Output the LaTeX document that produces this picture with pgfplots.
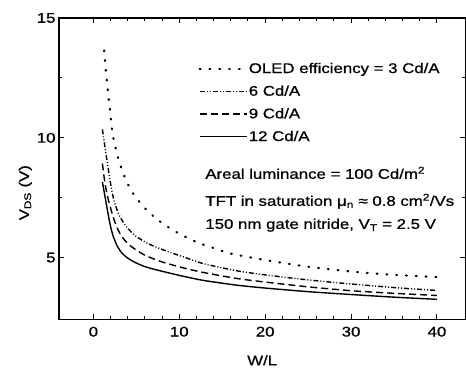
\documentclass[border=0pt]{standalone}
\usepackage{fontspec}
\setmainfont[FakeStretch=1.2, FakeBold=0.8]{Liberation Sans}
\usepackage{pgfplots}
\pgfplotsset{compat=1.18}
\pgfplotstableread{
x y
1.25 13.65
1.45 12.8
1.7 11.9
1.95 11.1
2.15 10.4
2.4 9.85
2.75 9.35
3.0 9.0
3.45 8.55
3.9 8.15
4.5 7.75
5.2 7.4
6.3 6.95
7.6 6.55
8.8 6.25
10 6.0
12 5.65
13.6 5.45
16 5.17
20 4.9
25 4.62
30 4.42
35 4.28
40 4.19
}\tabA
\pgfplotstableread{
x y
1.05 10.35
1.35 9.6
1.65 8.9
1.95 8.2
2.35 7.45
2.9 6.85
3.7 6.35
4.85 5.92
6.4 5.58
8.3 5.3
10.5 5.03
12.8 4.75
16.7 4.45
20 4.28
25 4.07
30 3.9
35 3.75
40 3.63
}\tabB
\pgfplotstableread{
x y
1.05 8.93
1.35 8.1
1.75 7.4
2.3 6.7
2.7 6.3
3.1 6.0
3.7 5.7
4.5 5.44
6.0 5.1
8.0 4.82
10.5 4.57
12.8 4.38
16.7 4.13
20 3.98
25 3.78
30 3.62
35 3.51
40 3.42
}\tabC
\pgfplotstableread{
x y
1.05 8.16
1.25 7.75
1.45 7.35
1.75 6.75
2.0 6.3
2.3 5.9
2.75 5.5
3.3 5.2
4.0 4.98
4.85 4.8
5.8 4.65
6.8 4.54
8.7 4.37
10.5 4.22
12.8 4.05
16.7 3.85
20 3.73
25 3.58
30 3.46
35 3.35
40 3.26
}\tabD
\begin{document}
\begin{tikzpicture}
\begin{axis}[
  scale only axis, width=406pt, height=301pt,
  xmin=-4, xmax=43.3, ymin=2.43, ymax=15,
  xtick={0,10,20,30,40}, ytick={5,10,15},
  minor x tick num=4, minor y tick num=1,
  axis line style={line width=1.4pt},
  every tick/.style={black, line width=1pt},
  major tick length=5pt, minor tick length=3pt,
  /pgf/number format/assume math mode=true,
  ticklabel style={font=\fontsize{14}{14}\selectfont},
  xticklabel style={yshift=-4pt},
  label style={font=\fontsize{14}{14}\selectfont},
  xlabel={W/L},
  xlabel style={at={(axis description cs:0.5,0)}, anchor=center, yshift=-41pt},
  ylabel={V\textsubscript{DS} (V)},
  ylabel style={at={(axis description cs:-0.083,0.42)}, anchor=center},
  legend cell align=left,
  legend style={draw=none, fill=none, at={(axis description cs:0.343,0.855)}, anchor=north west,
    font=\fontsize{14}{14}\selectfont, row sep=9pt, inner sep=0pt,
    nodes={inner sep=1pt}},
  legend image code/.code={\draw[#1] (0pt,0pt) -- (47pt,0pt);},
  every axis plot/.append style={black, line width=1.4pt, smooth, tension=0.4},
]
\addplot[line width=2.2pt, line cap=round, dash pattern=on 0.8pt off 9pt] table {\tabA};
\addlegendentry{OLED efficiency = 3 Cd/A}
\addplot[dash pattern=on 5pt off 2pt on 1pt off 2pt on 1pt off 2pt] table {\tabB};
\addlegendentry{6 Cd/A}
\addplot[dash pattern=on 7pt off 4pt] table {\tabC};
\addlegendentry{9 Cd/A}
\addplot[] table {\tabD};
\addlegendentry{12 Cd/A}
\node[anchor=west, font=\fontsize{14}{14}\selectfont] at (axis description cs:0.3515,0.486) {Areal luminance = 100 Cd/m\textsuperscript{2}};
\node[anchor=west, font=\fontsize{14}{14}\selectfont] at (axis description cs:0.3515,0.392) {TFT in saturation μ\textsubscript{n} ≈ 0.8 cm\textsuperscript{2}/Vs};
\node[anchor=west, font=\fontsize{14}{14}\selectfont] at (axis description cs:0.3515,0.312) {150 nm gate nitride, V\textsubscript{T} = 2.5 V};
\end{axis}
\path[use as bounding box] ([xshift=-59pt,yshift=-47pt]current axis.south west) rectangle ([xshift=-1pt,yshift=18pt]current axis.north east);
\end{tikzpicture}
\end{document}
